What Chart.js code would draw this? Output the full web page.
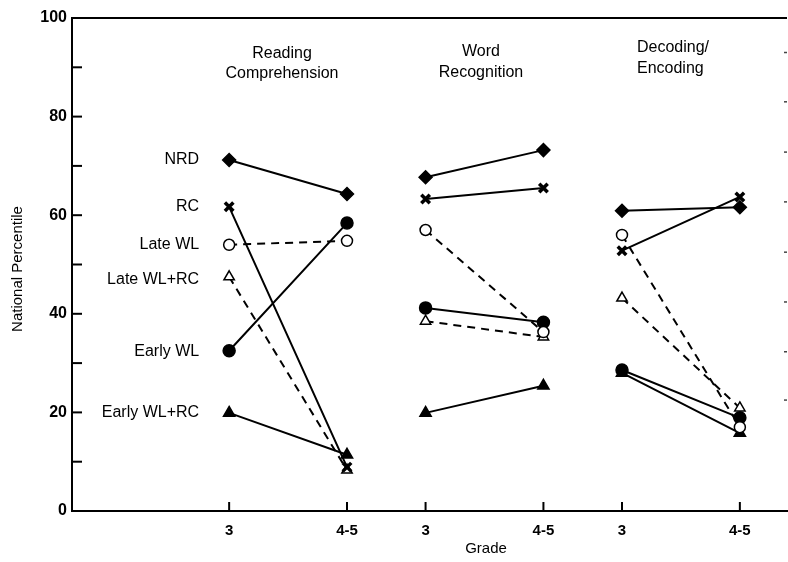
<!DOCTYPE html>
<html>
<head>
<meta charset="utf-8">
<script src="https://cdn.jsdelivr.net/npm/chart.js@4.4.1/dist/chart.umd.min.js"></script>
<style>
  html, body { margin: 0; padding: 0; background: #fff; }
  #wrap { width: 788px; height: 562px; }
</style>
</head>
<body>
<div id="wrap"><canvas id="chart" width="788" height="562"></canvas></div>
<script>
// --- data ---
const X_POS = [4, 7, 9, 12, 14, 17];
const GRADE_LABELS = ['3', '4-5', '3', '4-5', '3', '4-5'];
const GROUP_TITLES = [['Reading', 'Comprehension'], ['Word', 'Recognition'], ['Decoding/', 'Encoding']];
const SERIES_NAMES = ['NRD', 'RC', 'Late WL', 'Late WL+RC', 'Early WL', 'Early WL+RC'];
const NRD         = [71.2, 64.3, 67.7, 73.2, 60.9, 61.6];
const RC          = [61.7,  8.9, 63.3, 65.5, 52.8, 63.7];
const LATE_WL     = [54.0, 54.8, 57.0, 36.3, 56.0, 17.0];
const LATE_WL_RC  = [47.5,  8.3, 38.5, 35.3, 43.2, 20.9];
const EARLY_WL    = [32.5, 58.4, 41.2, 38.3, 28.6, 18.9];
const EARLY_WL_RC = [19.9, 11.4, 19.9, 25.4, 28.0, 15.8];
const Y_TICKS = [0, 10, 20, 30, 40, 50, 60, 70, 80, 90, 100];
const RIGHT_TICKS = [93, 83, 72.8, 62.7, 52.5, 42.4, 32.3, 22.5];

const FONT = "'Liberation Sans', Arial, Helvetica, sans-serif";

// each series is three separate segments, one per test group
function segs(vals) {
  const out = [];
  vals.forEach((v, i) => {
    out.push({ x: X_POS[i], y: v });
    if (i === 1 || i === 3) out.push({ x: (X_POS[i] + X_POS[i + 1]) / 2, y: null });
  });
  return out;
}

function ds(label, vals, style, radius, filled, dashed, pbw) {
  return {
    label, data: segs(vals),
    borderColor: '#000', borderWidth: 2,
    borderDash: dashed ? [8, 6] : [],
    pointStyle: style, pointRadius: radius,
    pointBackgroundColor: filled ? '#000' : '#fff',
    pointBorderColor: '#000', pointBorderWidth: pbw || 1.5,
    spanGaps: false, fill: false
  };
}

const datasets = [
  ds(SERIES_NAMES[0], NRD, 'rectRot', 6.5, true, false),
  ds(SERIES_NAMES[1], RC, 'crossRot', 6, true, false, 3.5),
  ds(SERIES_NAMES[2], LATE_WL, 'circle', 5.5, false, true),
  ds(SERIES_NAMES[3], LATE_WL_RC, 'triangle', 6, false, true),
  ds(SERIES_NAMES[4], EARLY_WL, 'circle', 6, true, false),
  ds(SERIES_NAMES[5], EARLY_WL_RC, 'triangle', 6.5, true, false)
];

// axes frame, inward ticks, and all annotation text
const decor = {
  id: 'decor',
  afterDraw(ch) {
    const ctx = ch.ctx, a = ch.chartArea, xs = ch.scales.x, ys = ch.scales.y;
    ctx.save();
    ctx.strokeStyle = '#000';
    ctx.lineWidth = 2;
    // top frame line
    ctx.beginPath(); ctx.moveTo(a.left, a.top); ctx.lineTo(a.right, a.top); ctx.stroke();
    // inward y ticks
    Y_TICKS.forEach(v => {
      const y = ys.getPixelForValue(v);
      ctx.beginPath(); ctx.moveTo(a.left, y); ctx.lineTo(a.left + 10, y); ctx.stroke();
    });
    // upward x ticks
    X_POS.forEach(v => {
      const x = xs.getPixelForValue(v);
      ctx.beginPath(); ctx.moveTo(x, a.bottom); ctx.lineTo(x, a.bottom - 9); ctx.stroke();
    });
    // faint marks on the right edge
    ctx.lineWidth = 1.5;
    ctx.strokeStyle = '#444';
    RIGHT_TICKS.forEach(v => {
      const y = ys.getPixelForValue(v);
      ctx.beginPath(); ctx.moveTo(a.right - 3, y); ctx.lineTo(a.right, y); ctx.stroke();
    });

    ctx.fillStyle = '#000';
    ctx.textBaseline = 'middle';
    // group titles
    ctx.font = '16px ' + FONT;
    ctx.textAlign = 'center';
    ctx.fillText(GROUP_TITLES[0][0], 282, 54);
    ctx.fillText(GROUP_TITLES[0][1], 282, 74);
    ctx.fillText(GROUP_TITLES[1][0], 481, 52);
    ctx.fillText(GROUP_TITLES[1][1], 481, 73);
    ctx.textAlign = 'left';
    ctx.fillText(GROUP_TITLES[2][0], 637, 48);
    ctx.fillText(GROUP_TITLES[2][1], 637, 69);

    // series labels beside first points
    ctx.textAlign = 'right';
    const x0 = xs.getPixelForValue(X_POS[0]) - 30;
    const labelNudge = [0, 0, 0, 3, 1, 0];
    datasets.forEach((d, i) => {
      ctx.fillText(SERIES_NAMES[i], x0, ys.getPixelForValue(d.data[0].y) + labelNudge[i]);
    });

    // axis titles
    ctx.font = '15px ' + FONT;
    ctx.textAlign = 'center';
    ctx.fillText('Grade', 486, 549);
    ctx.save();
    ctx.translate(18, 269);
    ctx.rotate(-Math.PI / 2);
    ctx.fillText('National Percentile', 0, 0);
    ctx.restore();
    ctx.restore();
  }
};

new Chart(document.getElementById('chart'), {
  type: 'line',
  data: { datasets },
  options: {
    responsive: false,
    animation: false,
    devicePixelRatio: 1,
    layout: { autoPadding: false, padding: { top: 18, right: 1, left: 0, bottom: 0 } },
    plugins: { legend: { display: false }, tooltip: { enabled: false } },
    scales: {
      x: {
        type: 'linear', min: 0, max: 18.2,
        afterBuildTicks: s => { s.ticks = X_POS.map(v => ({ value: v })); },
        afterFit: s => { s.height = 51; s.paddingLeft = 0; s.paddingRight = 0; },
        grid: { display: false, drawTicks: false },
        border: { display: true, color: '#000', width: 2 },
        ticks: {
          autoSkip: false, maxRotation: 0, padding: 11, color: '#000',
          font: { family: FONT, size: 15, weight: 'bold' },
          callback: (v, i) => GRADE_LABELS[i]
        }
      },
      y: {
        min: 0, max: 100,
        afterFit: s => { s.width = 72; s.paddingTop = 0; s.paddingBottom = 0; },
        grid: { display: false, drawTicks: false },
        border: { display: true, color: '#000', width: 2 },
        ticks: {
          stepSize: 10, padding: 5, color: '#000',
          font: { family: FONT, size: 16, weight: 'bold' },
          callback: v => (v % 20 === 0 ? String(v) : '')
        }
      }
    }
  },
  plugins: [decor]
});
</script>
</body>
</html>
